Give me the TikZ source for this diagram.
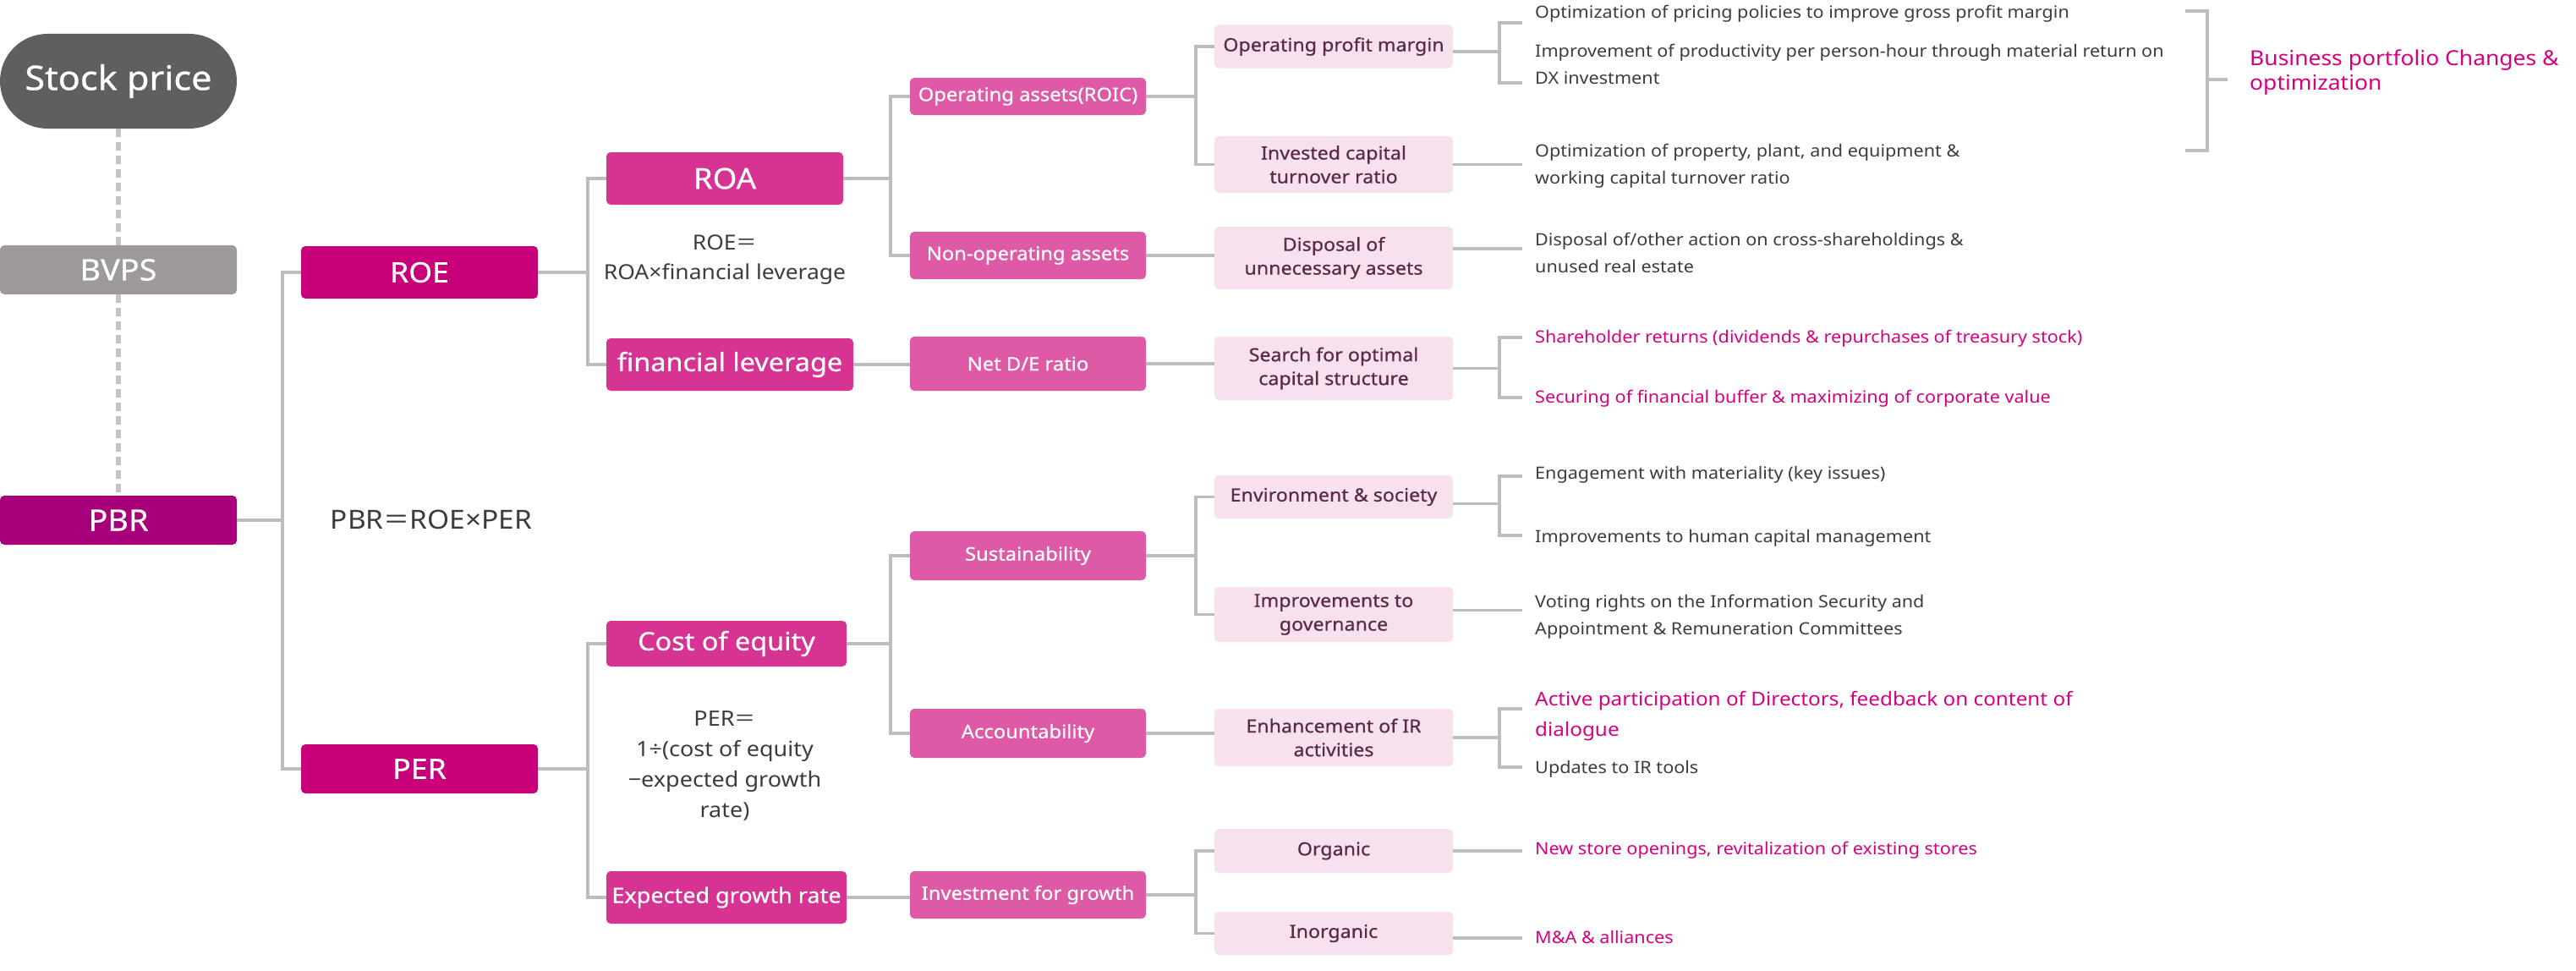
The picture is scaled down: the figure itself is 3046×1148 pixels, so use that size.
\documentclass[tikz,border=0pt]{standalone}
\usepackage{fontspec}
\setmainfont{Noto Sans}[FakeStretch=1.08]
\newfontfamily\boxfont{Noto Sans}[FakeStretch=1.08, FakeBold=0.6]
\newfontfamily\cjk{Noto Sans CJK JP}
\usetikzlibrary{calc}
\definecolor{cStock}{HTML}{5F5F5F}
\definecolor{cBvps}{HTML}{9E9A9A}
\definecolor{cPbr}{HTML}{A8007A}
\definecolor{cLa}{HTML}{C8007A}
\definecolor{cLb}{HTML}{D63393}
\definecolor{cLc}{HTML}{DE5AA6}
\definecolor{cLd}{HTML}{F7E1EE}
\definecolor{cLdt}{HTML}{5A2A48}
\definecolor{cLine}{HTML}{BDBDBD}
\definecolor{cText}{HTML}{3C3C3C}
\definecolor{cMag}{HTML}{D6007F}
\tikzset{
  box/.style={rectangle, rounded corners=5pt, inner sep=0pt, align=center, text=white},
  lvz/.style={box, font=\boxfont\fontsize{35}{40}\selectfont},
  lva/.style={box, fill=cLa, font=\boxfont\fontsize{33}{38}\selectfont},
  lvb/.style={box, fill=cLb, font=\boxfont\fontsize{30}{36}\selectfont},
  lvc/.style={box, fill=cLc, font=\boxfont\fontsize{22}{28}\selectfont},
  lvd/.style={box, fill=cLd, text=cLdt, font=\boxfont\fontsize{21.5}{28}\selectfont},
  conn/.style={draw=cLine, line width=3.5pt},
  dots/.style={draw=cLine!90!white, line width=6pt, dash pattern=on 10pt off 6pt},
  rt/.style={anchor=west, inner sep=0pt, align=left, text=cText, font=\fontsize{20}{32}\selectfont},
  rtm/.style={rt, text=cMag},
  formula/.style={inner sep=0pt, align=center, text=cText}
}
\begin{document}
\begin{tikzpicture}[x=1pt,y=-1pt]
\useasboundingbox (0,0) rectangle (3046,1148);
% level 0
\node[box, fill=cStock, rounded corners=56pt, minimum width=280, minimum height=112, font=\boxfont\fontsize{40}{44}\selectfont] (stock) at (140,96) {Stock price};
\node[lvz, fill=cBvps, minimum width=280, minimum height=58] (bvps) at (140,319) {BVPS};
\node[lvz, fill=cPbr, minimum width=280, minimum height=58] (pbr) at (140,615) {PBR};
% level 1
\node[lva, minimum width=280, minimum height=62] (roe) at (496,322) {ROE};
\node[lva, minimum width=280, minimum height=58] (per) at (496,909) {PER};
% level 2
\node[lvb, minimum width=280, minimum height=62, font=\boxfont\fontsize{34}{38}\selectfont] (roa) at (857,211) {ROA};
\node[lvb, minimum width=292, minimum height=62] (finlev) at (863,431) {financial leverage};
\node[lvb, minimum width=284, minimum height=54] (coe) at (859,761) {Cost of equity};
\node[lvb, minimum width=284, minimum height=62, font=\boxfont\fontsize{25}{30}\selectfont] (egr) at (859,1061) {Expected growth rate};
% level 3
\node[lvc, minimum width=279, minimum height=44] (roic) at (1215.5,114) {Operating assets(ROIC)};
\node[lvc, minimum width=279, minimum height=56] (nonop) at (1215.5,302) {Non-operating assets};
\node[lvc, minimum width=279, minimum height=64] (nde) at (1215.5,430) {Net D/E ratio};
\node[lvc, minimum width=279, minimum height=58] (sust) at (1215.5,657) {Sustainability};
\node[lvc, minimum width=279, minimum height=58] (acct) at (1215.5,867) {Accountability};
\node[lvc, minimum width=279, minimum height=56] (inv) at (1215.5,1058) {Investment for growth};
% level 4
\node[lvd, minimum width=282, minimum height=51] (opm) at (1577,55) {Operating profit margin};
\node[lvd, minimum width=282, minimum height=67] (icap) at (1577,194.5) {Invested capital\\turnover ratio};
\node[lvd, minimum width=282, minimum height=74] (disp) at (1577,305) {Disposal of\\unnecessary assets};
\node[lvd, minimum width=282, minimum height=75] (search) at (1577,435.5) {Search for optimal\\capital structure};
\node[lvd, minimum width=282, minimum height=51] (env) at (1577,587.5) {Environment \& society};
\node[lvd, minimum width=282, minimum height=65] (gov) at (1577,726.5) {Improvements to\\governance};
\node[lvd, minimum width=282, minimum height=68] (enh) at (1577,872) {Enhancement of IR\\activities};
\node[lvd, minimum width=282, minimum height=52] (org) at (1577,1006) {Organic};
\node[lvd, minimum width=282, minimum height=51] (inorg) at (1577,1103.5) {Inorganic};
% formulas
\node[formula, font=\fontsize{31}{36}\selectfont] (f1) at (510,614) {PBR{\cjk ＝}ROE×PER};
\node[formula, font=\fontsize{24.5}{35}\selectfont] (f2) at (857,307.5) {ROE{\cjk ＝}\\ROA×financial leverage};
\node[formula, font=\fontsize{25}{36}\selectfont] (f3) at (857,906) {PER{\cjk ＝}\\1÷(cost of equity\\−expected growth\\rate)};
% right texts
\node[rt] (t1) at (1815,16) {Optimization of pricing policies to improve gross profit margin};
\node[rt] (t2) at (1815,76) {Improvement of productivity per person-hour through material return on\\DX investment};
\node[rt] (t3) at (1815,196) {Optimization of property, plant, and equipment \&\\working capital turnover ratio};
\node[rt] (t4) at (1815,299) {Disposal of/other action on cross-shareholdings \&\\unused real estate};
\node[rtm] (t5) at (1815,400) {Shareholder returns (dividends \& repurchases of treasury stock)};
\node[rtm] (t6) at (1815,471) {Securing of financial buffer \& maximizing of corporate value};
\node[rt] (t7) at (1815,561) {Engagement with materiality (key issues)};
\node[rt] (t8) at (1815,636) {Improvements to human capital management};
\node[rt] (t9) at (1815,729) {Voting rights on the Information Security and\\Appointment \& Remuneration Committees};
\node[rtm, font=\fontsize{22.5}{36}\selectfont] (t10) at (1815,847) {Active participation of Directors, feedback on content of\\dialogue};
\node[rt] (t11) at (1815,909) {Updates to IR tools};
\node[rtm] (t12) at (1815,1005) {New store openings, revitalization of existing stores};
\node[rtm] (t13) at (1815,1108) {M\&A \& alliances};
\node[rtm, font=\fontsize{24.5}{29}\selectfont] (t14) at (2660,85.5) {Business portfolio Changes \&\\optimization};
% dotted links
\draw[dots] (stock.south) -- (bvps.north);
\draw[dots] (bvps.south) -- (pbr.north);
% tree connectors
\begin{scope}[conn, line join=miter]
\draw (pbr.east) -- ++(54,0) |- (roe.west);
\draw (pbr.east) -- ++(54,0) |- (per.west);
\draw (roe.east) -- ++(59,0) |- (roa.west);
\draw (roe.east) -- ++(59,0) |- (finlev.west);
\draw (per.east) -- ++(59,0) |- (coe.west);
\draw (per.east) -- ++(59,0) |- (egr.west);
\draw (roa.east) -- ++(56,0) |- (roic.west);
\draw (roa.east) -- ++(56,0) |- (nonop.west);
\draw (finlev.east) -- (finlev.east -| nde.west);
\draw (coe.east) -- ++(52,0) |- (sust.west);
\draw (coe.east) -- ++(52,0) |- (acct.west);
\draw (egr.east) -- (egr.east -| inv.west);
\draw (roic.east) -- ++(59,0) |- (opm.west);
\draw (roic.east) -- ++(59,0) |- (icap.west);
\draw (nonop.east) -- (nonop.east -| disp.west);
\draw (nde.east) -- (nde.east -| search.west);
\draw (sust.east) -- ++(59,0) |- (env.west);
\draw (sust.east) -- ++(59,0) |- (gov.west);
\draw (acct.east) -- (acct.east -| enh.west);
\draw (inv.east) -- ++(59,0) |- (org.west);
\draw (inv.east) -- ++(59,0) |- (inorg.west);
% right side
\coordinate (a1) at (1800,27); \coordinate (a2) at (1800,98);
\draw ($(opm.east)+(0,6)$) -- ++(55,0) coordinate (am);
\draw (a1) -| (am) |- (a2);
\draw (icap.east) -- ++(82,0) coordinate (bm);
\draw ($(disp.east)+(0,-11)$) -- ++(82,0) coordinate (cm);
\coordinate (d1) at (1800,399); \coordinate (d2) at (1800,470);
\draw (search.east) -- ++(55,0) coordinate (dm);
\draw (d1) -| (dm) |- (d2);
\coordinate (e1) at (1800,563); \coordinate (e2) at (1800,633);
\draw ($(env.east)+(0,8)$) -- ++(55,0) coordinate (em);
\draw (e1) -| (em) |- (e2);
\draw ($(gov.east)+(0,-5)$) -- ++(82,0) coordinate (gm);
\coordinate (h1) at (1800,838); \coordinate (h2) at (1800,907);
\draw (enh.east) -- ++(55,0) coordinate (hm);
\draw (h1) -| (hm) |- (h2);
\draw (org.east) -- ++(82,0) coordinate (om);
\draw ($(inorg.east)+(0,5.5)$) -- ++(82,0) coordinate (im);
% big bracket
\coordinate (k1) at (2584,13); \coordinate (k2) at (2584,178); \coordinate (k3) at (2634,94);
\draw (k1) -- (2610,13) -- (2610,178) -- (k2);
\draw (2610,94) -- (k3);
\end{scope}
\end{tikzpicture}
\end{document}
